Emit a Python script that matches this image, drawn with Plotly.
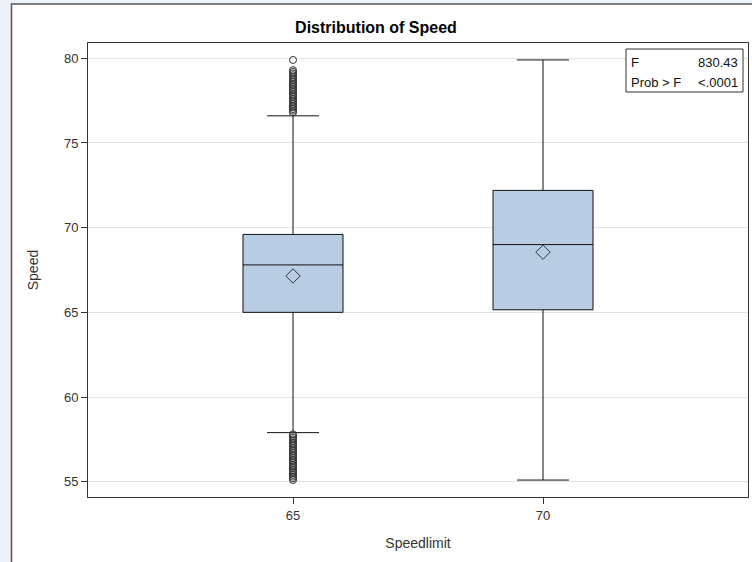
import plotly.graph_objects as go

# ---- data ----
categories = ["65", "70"]
q1 = [65.0, 65.15]
median = [67.8, 69.0]
q3 = [69.6, 72.2]
lower_whisker = [57.9, 55.1]
upper_whisker = [76.6, 79.9]
means = [67.15, 68.55]

outliers_65 = [
    79.9, 79.3, 79.2, 79.1, 79.0, 78.9, 78.8, 78.7, 78.6, 78.5, 78.4, 78.3,
    78.2, 78.1, 78.0, 77.9, 77.8, 77.7, 77.6, 77.5, 77.4, 77.3, 77.2, 77.1,
    77.0, 76.9, 76.8,
    57.8, 57.7, 57.6, 57.5, 57.4, 57.3, 57.2, 57.1, 57.0, 56.9, 56.8, 56.7,
    56.6, 56.5, 56.4, 56.3, 56.2, 56.1, 56.0, 55.9, 55.8, 55.7, 55.6, 55.5,
    55.4, 55.3, 55.2, 55.1,
]
outliers_70 = []

stat_labels = ["F", "Prob > F"]
stat_values = ["830.43", "<.0001"]

y_ticks = [55, 60, 65, 70, 75, 80]

FONT = "Liberation Sans, Arial, sans-serif"
BOX_FILL = "#b8cce4"
LINE = "#333333"

fig = go.Figure()

for i, cat in enumerate(categories):
    fig.add_trace(go.Box(
        x=[cat],
        q1=[q1[i]], median=[median[i]], q3=[q3[i]],
        lowerfence=[lower_whisker[i]], upperfence=[upper_whisker[i]],
        width=0.4,
        whiskerwidth=0.52,
        fillcolor=BOX_FILL,
        line=dict(color="#111111", width=1),
        boxpoints=False,
        showlegend=False,
        hoverinfo="skip",
    ))

fig.add_trace(go.Scatter(
    x=categories, y=means, mode="markers",
    marker=dict(symbol="diamond-open", size=11, color="#333333", line=dict(width=1)),
    showlegend=False,
))

out_x = [categories[0]] * len(outliers_65) + [categories[1]] * len(outliers_70)
out_y = outliers_65 + outliers_70
fig.add_trace(go.Scatter(
    x=out_x, y=out_y, mode="markers",
    marker=dict(symbol="circle-open", size=7, color="#333333", line=dict(width=1)),
    showlegend=False,
))

# geometry helpers (pixels -> paper)
L, R, T, B = 88, 4, 43, 65
W, H = 752, 562
pw, ph = W - L - R, H - T - B


def px(x):
    return (x - L) / pw


def py(y):
    return (H - B - y) / ph


shapes = [
    # outer frame
    dict(type="rect", xref="paper", yref="paper", layer="below",
         x0=px(11.5), x1=px(770), y0=py(4), y1=py(580),
         fillcolor="white", line=dict(color="#555555", width=1.5)),
    # stats inset
    dict(type="rect", xref="paper", yref="paper",
         x0=px(626), x1=px(743), y0=py(92), y1=py(49),
         fillcolor="white", line=dict(color="#333333", width=1)),
]

annotations = []
for j, (lab, val) in enumerate(zip(stat_labels, stat_values)):
    yy = py(62 + j * 20)
    annotations.append(dict(xref="paper", yref="paper", x=px(629), y=yy,
                            text=lab, showarrow=False, xanchor="left", yanchor="middle",
                            font=dict(family=FONT, size=13, color="#111111")))
    annotations.append(dict(xref="paper", yref="paper", x=px(740), y=yy,
                            text=val, showarrow=False, xanchor="right", yanchor="middle",
                            font=dict(family=FONT, size=13, color="#111111")))

fig.update_layout(
    width=W, height=H,
    margin=dict(l=L, r=R, t=T, b=B),
    paper_bgcolor="#edf1f9",
    plot_bgcolor="white",
    font=dict(family=FONT, size=13, color="#333333"),
    title=dict(text="<b>Distribution of Speed</b>", x=px(418), xanchor="center",
               y=1 - 27 / H, yanchor="middle",
               font=dict(family=FONT, size=16, color="#000000")),
    boxmode="overlay",
    shapes=shapes,
    annotations=annotations,
    xaxis=dict(
        type="category", categoryorder="array", categoryarray=categories,
        range=[-0.82, 1.82],
        showgrid=False, zeroline=False,
        showline=True, mirror=True, linecolor=LINE, linewidth=1,
        ticks="outside", ticklen=6, tickcolor=LINE,
        tickfont=dict(family=FONT, size=13, color="#333333"),
        title=dict(text="Speedlimit", standoff=16,
                   font=dict(family=FONT, size=14, color="#333333")),
    ),
    yaxis=dict(
        range=[54.1, 80.9],
        tickvals=y_ticks,
        showgrid=True, gridcolor="#e3e3e3", gridwidth=1,
        zeroline=False,
        showline=True, mirror=True, linecolor=LINE, linewidth=1,
        ticks="outside", ticklen=6, tickcolor=LINE,
        tickfont=dict(family=FONT, size=13, color="#333333"),
        title=dict(text="Speed", standoff=22,
                   font=dict(family=FONT, size=14, color="#333333")),
    ),
)

fig.write_html("out.html",
               config={"displayModeBar": False},
               post_script="document.body.style.margin='0px';document.body.style.background='#edf1f9';")
